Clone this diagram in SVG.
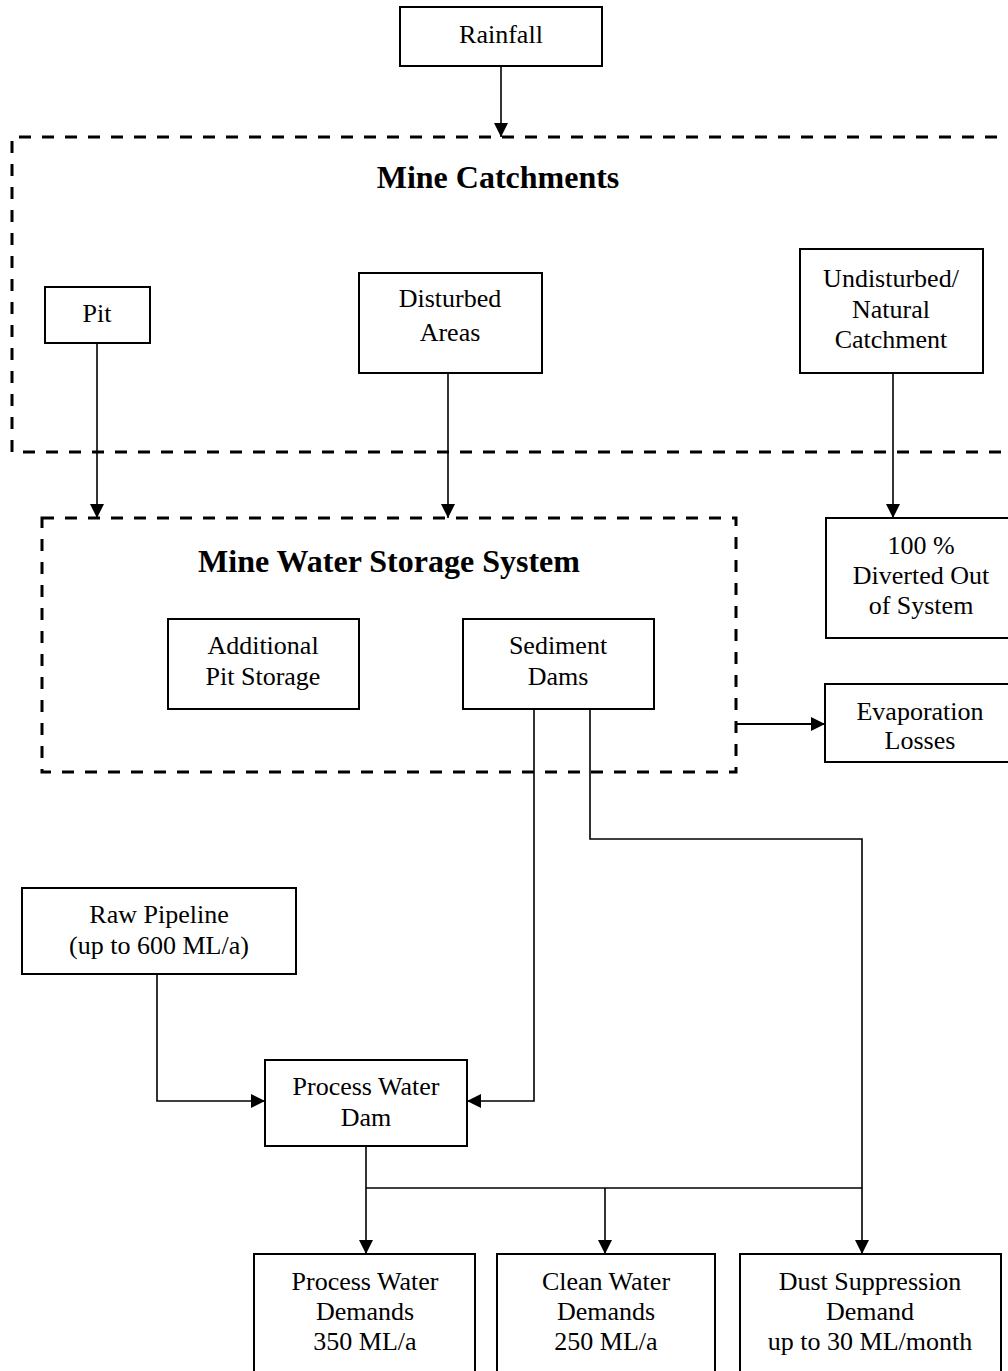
<svg xmlns="http://www.w3.org/2000/svg" width="1008" height="1371" viewBox="0 0 1008 1371">
<style>
  .box { fill: #fff; stroke: #000; stroke-width: 2; }
  .dash { fill: none; stroke: #000; stroke-width: 3; stroke-dasharray: 12 11; }
  .t { font-family: "Liberation Serif", "Times New Roman", serif; font-size: 26px; text-anchor: middle; fill: #000; }
  .title { font-family: "Liberation Serif", "Times New Roman", serif; font-size: 32px; font-weight: bold; text-anchor: middle; fill: #000; }
  .c { fill: none; stroke: #000; stroke-width: 1.6; }
  .ca { fill: none; stroke: #000; stroke-width: 1.6; marker-end: url(#arr); }
</style>
<defs>
  <marker id="arr" markerUnits="userSpaceOnUse" markerWidth="14" markerHeight="14" refX="14" refY="7" orient="auto">
    <path d="M0,0 L14,7 L0,14 z" fill="#000"/>
  </marker>
</defs>
<rect width="1008" height="1371" fill="#fff"/>

<g id="mine-catchments">
  <path class="dash" d="M1020,137 H12 V452 H1020"/>
  <text class="title" x="498" y="188">Mine Catchments</text>
</g>
<g id="mine-water-storage-system">
  <rect class="dash" x="42" y="518" width="694" height="254"/>
  <text class="title" x="389" y="572">Mine Water Storage System</text>
</g>

<g id="connectors">
  <path class="ca" d="M501,66 V137"/>
  <path class="ca" d="M97,343 V518"/>
  <path class="ca" d="M448,373 V518"/>
  <path class="ca" d="M893,373 V518"/>
  <path class="ca" style="stroke-width:2.2" d="M736,724 H825"/>
  <path class="ca" d="M534,709 V1101 H467"/>
  <path class="ca" d="M157,974 V1101 H265"/>
  <path class="ca" d="M590,709 V839 H862 V1254"/>
  <path class="ca" d="M366,1146 V1254"/>
  <path class="c" d="M366,1188 H862"/>
  <path class="ca" d="M605,1188 V1254"/>
</g>

<g id="rainfall">
  <rect class="box" x="400" y="7" width="202" height="59"/>
  <text class="t" x="501" y="43">Rainfall</text>
</g>
<g id="pit">
  <rect class="box" x="45" y="287" width="105" height="56"/>
  <text class="t" x="97" y="322">Pit</text>
</g>
<g id="disturbed-areas">
  <rect class="box" x="359" y="273" width="183" height="100"/>
  <text class="t" x="450" y="307">Disturbed</text>
  <text class="t" x="450" y="341">Areas</text>
</g>
<g id="undisturbed">
  <rect class="box" x="800" y="249" width="183" height="124"/>
  <text class="t" x="891" y="287">Undisturbed/</text>
  <text class="t" x="891" y="318">Natural</text>
  <text class="t" x="891" y="348">Catchment</text>
</g>
<g id="diverted">
  <rect class="box" x="826" y="518" width="190" height="120"/>
  <text class="t" x="921" y="554">100 %</text>
  <text class="t" x="921" y="584">Diverted Out</text>
  <text class="t" x="921" y="614">of System</text>
</g>
<g id="additional-pit-storage">
  <rect class="box" x="168" y="619" width="191" height="90"/>
  <text class="t" x="263" y="654">Additional</text>
  <text class="t" x="263" y="685">Pit Storage</text>
</g>
<g id="sediment-dams">
  <rect class="box" x="463" y="619" width="191" height="90"/>
  <text class="t" x="558" y="654">Sediment</text>
  <text class="t" x="558" y="685">Dams</text>
</g>
<g id="evaporation-losses">
  <rect class="box" x="825" y="684" width="190" height="78"/>
  <text class="t" x="920" y="720">Evaporation</text>
  <text class="t" x="920" y="749">Losses</text>
</g>
<g id="raw-pipeline">
  <rect class="box" x="22" y="888" width="274" height="86"/>
  <text class="t" x="159" y="923">Raw Pipeline</text>
  <text class="t" x="159" y="954">(up to 600 ML/a)</text>
</g>
<g id="process-water-dam">
  <rect class="box" x="265" y="1060" width="202" height="86"/>
  <text class="t" x="366" y="1095">Process Water</text>
  <text class="t" x="366" y="1126">Dam</text>
</g>
<g id="process-water-demands">
  <rect class="box" x="254" y="1254" width="221" height="140"/>
  <text class="t" x="365" y="1290">Process Water</text>
  <text class="t" x="365" y="1320">Demands</text>
  <text class="t" x="365" y="1350">350 ML/a</text>
</g>
<g id="clean-water-demands">
  <rect class="box" x="497" y="1254" width="218" height="140"/>
  <text class="t" x="606" y="1290">Clean Water</text>
  <text class="t" x="606" y="1320">Demands</text>
  <text class="t" x="606" y="1350">250 ML/a</text>
</g>
<g id="dust-suppression-demand">
  <rect class="box" x="740" y="1254" width="261" height="140"/>
  <text class="t" x="870" y="1290">Dust Suppression</text>
  <text class="t" x="870" y="1320">Demand</text>
  <text class="t" x="870" y="1350">up to 30 ML/month</text>
</g>
</svg>
